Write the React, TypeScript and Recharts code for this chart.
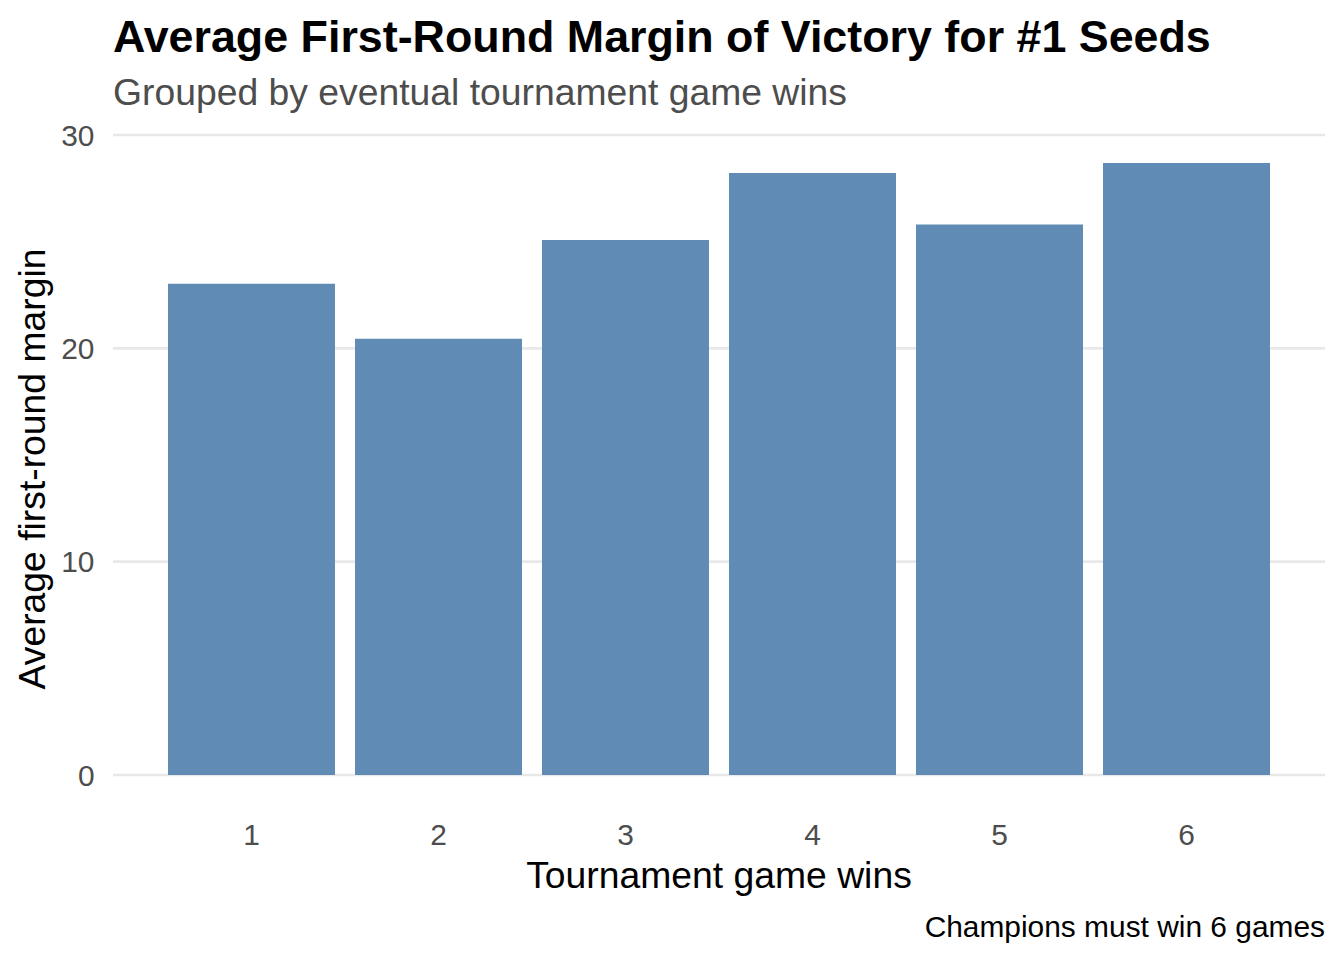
import React from 'react';
import { BarChart, Bar, XAxis, YAxis, CartesianGrid } from 'recharts';

const wins = ['1', '2', '3', '4', '5', '6'];
const avgMargin = [23.03, 20.45, 25.08, 28.22, 25.8, 28.69];
const yTicks = [0, 10, 20, 30];

const data = wins.map((w, i) => ({ wins: w, margin: avgMargin[i] }));

const FONT = '"Liberation Sans", Arial, Helvetica, sans-serif';

export default function App() {
  return (
    <div style={{ position: 'absolute', left: 0, top: 0, width: 1344, height: 960, background: '#fff', fontFamily: FONT }}>
      <BarChart
        width={1344}
        height={960}
        data={data}
        margin={{ top: 135, right: 19, left: 0, bottom: 125 }}
        barCategoryGap={10}
      >
        <CartesianGrid vertical={false} stroke="#E8E8E8" strokeWidth={2.7} />
        <XAxis
          dataKey="wins"
          height={60}
          padding={{ left: 45, right: 45 }}
          axisLine={false}
          tickLine={false}
          tickSize={0}
          tickMargin={49}
          tick={{ fill: '#4D4D4D', fontSize: 29.9, fontFamily: FONT }}
        />
        <YAxis
          width={113}
          domain={[0, 30]}
          ticks={yTicks}
          axisLine={false}
          tickLine={false}
          tickSize={0}
          tickMargin={18.5}
          tick={{ fill: '#4D4D4D', fontSize: 29.9, fontFamily: FONT }}
        />
        <Bar dataKey="margin" fill="#5F8BB5" isAnimationActive={false} />
      </BarChart>
      <svg
        width={1344}
        height={960}
        style={{ position: 'absolute', left: 0, top: 0, pointerEvents: 'none' }}
        fontFamily={FONT}
      >
        <text x={113} y={52} fontSize={44.8} fontWeight="bold" fill="#000">
          Average First-Round Margin of Victory for #1 Seeds
        </text>
        <text x={113} y={105} fontSize={37.3} fill="#4D4D4D">
          Grouped by eventual tournament game wins
        </text>
        <text x={45} y={469} fontSize={37.3} fill="#000" textAnchor="middle" transform="rotate(-90, 45, 469)">
          Average first-round margin
        </text>
        <text x={719} y={888} fontSize={37.3} fill="#000" textAnchor="middle">
          Tournament game wins
        </text>
        <text x={1325} y={937} fontSize={29.9} fill="#000" textAnchor="end">
          Champions must win 6 games
        </text>
      </svg>
    </div>
  );
}
